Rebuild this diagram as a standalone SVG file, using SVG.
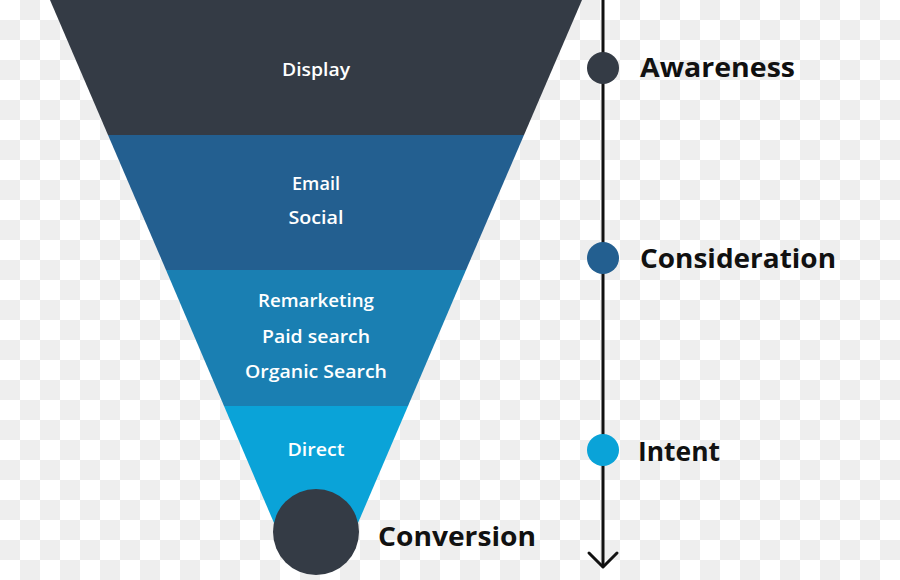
<svg xmlns="http://www.w3.org/2000/svg" width="900" height="580" viewBox="0 0 900 580">
<defs>
<pattern id="chk" patternUnits="userSpaceOnUse" width="40" height="40">
<rect width="40" height="40" fill="#ffffff"/>
<rect x="20" y="0" width="20" height="20" fill="#eeeeee"/>
<rect x="0" y="20" width="20" height="20" fill="#eeeeee"/>
</pattern>
<style>
.lbl{font-family:"Open Sans",Lato,"Liberation Sans",sans-serif;font-weight:600;font-size:17.5px;fill:#ffffff;text-anchor:middle;font-variant-ligatures:none}
.stage{font-family:"Open Sans",Lato,"Liberation Sans",sans-serif;font-weight:700;font-size:27px;fill:#111111;font-variant-ligatures:none}
</style>
</defs>
<rect width="900" height="580" fill="url(#chk)"/>
<g id="band-display">
<polygon points="50,0 582,0 524,135 108,135" fill="#343b45"/>
<text class="lbl" x="316" y="76" textLength="68" lengthAdjust="spacingAndGlyphs">Display</text>
</g>
<g id="band-email-social">
<polygon points="108,135 524,135 466,270 166,270" fill="#235f90"/>
<text class="lbl" x="316" y="190" textLength="48" lengthAdjust="spacingAndGlyphs">Email</text>
<text class="lbl" x="316" y="224" textLength="55" lengthAdjust="spacingAndGlyphs">Social</text>
</g>
<g id="band-search">
<polygon points="166,270 466,270 408,406 224,406" fill="#1a7fb2"/>
<text class="lbl" x="316" y="307" textLength="116" lengthAdjust="spacingAndGlyphs">Remarketing</text>
<text class="lbl" x="316" y="343" textLength="108" lengthAdjust="spacingAndGlyphs">Paid search</text>
<text class="lbl" x="316" y="378" textLength="142" lengthAdjust="spacingAndGlyphs">Organic Search</text>
</g>
<g id="band-direct">
<polygon points="224,406 408,406 352,537 280,537" fill="#0aa3d8"/>
<text class="lbl" x="316" y="456" textLength="57" lengthAdjust="spacingAndGlyphs">Direct</text>
</g>
<g id="conversion">
<circle cx="316" cy="532" r="43" fill="#343b45"/>
<text class="stage" x="378" y="546" textLength="158" lengthAdjust="spacingAndGlyphs">Conversion</text>
</g>
<g id="connectors">
<line x1="603" y1="0" x2="603" y2="567" stroke="#111111" stroke-width="3"/>
<polyline points="589,553 603,567 617,553" fill="none" stroke="#111111" stroke-width="3" stroke-linecap="round" stroke-linejoin="round"/>
</g>
<g id="awareness">
<circle cx="603" cy="68" r="16" fill="#343b45"/>
<text class="stage" x="640" y="77" textLength="155" lengthAdjust="spacingAndGlyphs">Awareness</text>
</g>
<g id="consideration">
<circle cx="603" cy="258" r="16" fill="#235f90"/>
<text class="stage" x="640" y="268" textLength="196" lengthAdjust="spacingAndGlyphs">Consideration</text>
</g>
<g id="intent">
<circle cx="603" cy="450" r="16" fill="#0aa3d8"/>
<text class="stage" x="638" y="461" textLength="82" lengthAdjust="spacingAndGlyphs">Intent</text>
</g>
</svg>
